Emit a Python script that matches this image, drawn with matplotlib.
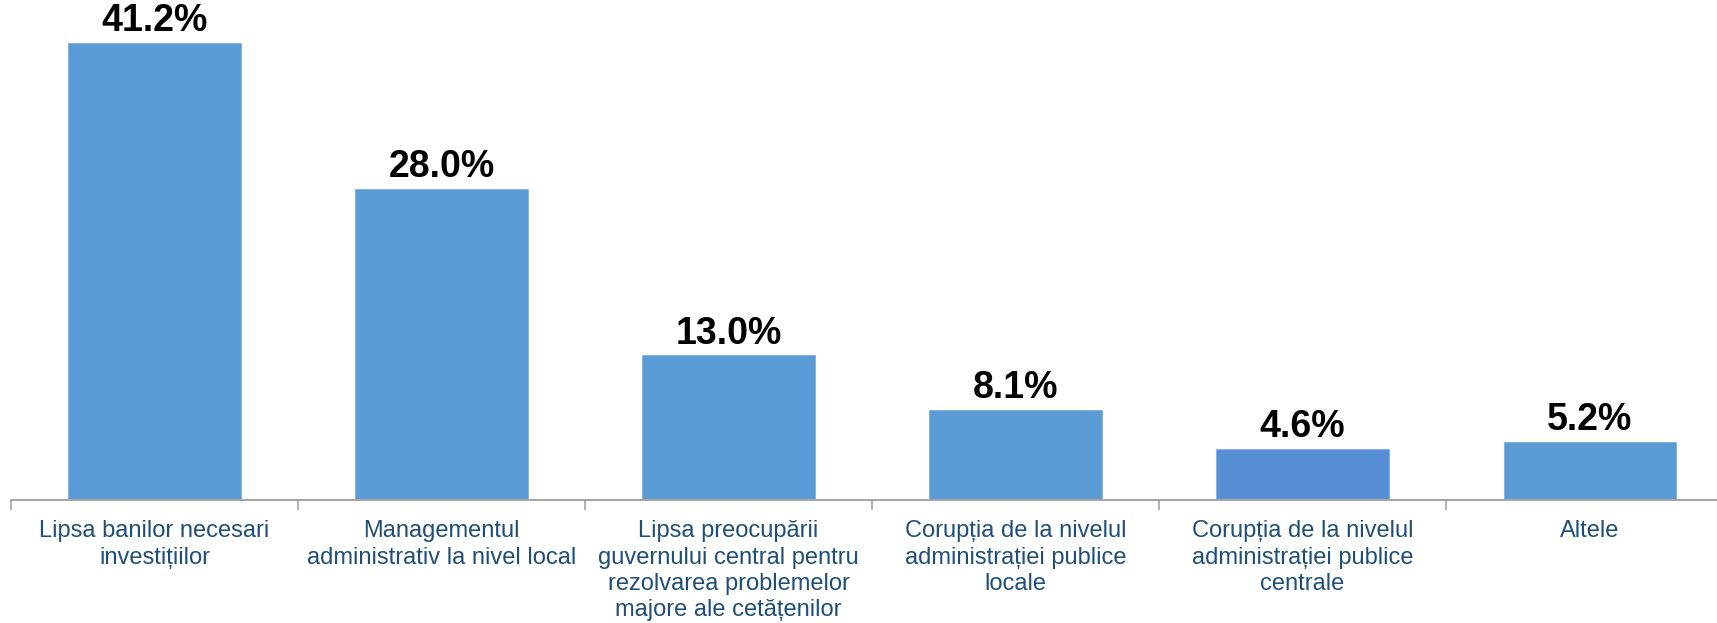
import numpy as np
import matplotlib.pyplot as plt

categories = [
    "Lipsa banilor necesari\ninvestițiilor",
    "Managementul\nadministrativ la nivel local",
    "Lipsa preocupării\nguvernului central pentru\nrezolvarea problemelor\nmajore ale cetățenilor",
    "Corupția de la nivelul\nadministrației publice\nlocale",
    "Corupția de la nivelul\nadministrației publice\ncentrale",
    "Altele",
]
values = [41.2, 28.0, 13.0, 8.1, 4.6, 5.2]
bar_colors = ["#5B9BD5", "#5B9BD5", "#5B9BD5", "#5B9BD5", "#558ED5", "#5B9BD5"]

plt.rcParams['font.family'] = ['Liberation Sans', 'DejaVu Sans']

fig = plt.figure(figsize=(17.17, 6.23), dpi=100)
# axes run slightly past the right edge, as in the original
ax = fig.add_axes([0.0064, 0.198, 1.003, 0.801])

x = np.arange(len(values))
ax.bar(x, values, width=0.6, color=bar_colors, edgecolor="#7FB1E0", linewidth=0.6, zorder=2)

for xi, v in zip(x, values):
    ax.text(xi, v + 0.35, f"{v:.1f}%", ha="center", va="bottom",
            fontsize=27, fontweight="bold", color="black")

ax.set_xlim(-0.5, len(values) - 0.5)
ax.set_ylim(0, 45)

for s in ["top", "right", "left"]:
    ax.spines[s].set_visible(False)
ax.spines["bottom"].set_color("#A6A6A6")
ax.spines["bottom"].set_linewidth(1.5)
ax.set_yticks([])

# category labels at centers, tick marks at category boundaries
ax.set_xticks(x)
ax.set_xticklabels(categories, fontsize=17, color="#1F4E79", linespacing=1.25)
ax.tick_params(axis="x", which="major", length=0, pad=15)
ax.set_xticks(np.arange(len(values) + 1) - 0.5, minor=True)
ax.tick_params(axis="x", which="minor", length=7, width=1.2, color="#A6A6A6")

plt.savefig("out.png", dpi=100)
